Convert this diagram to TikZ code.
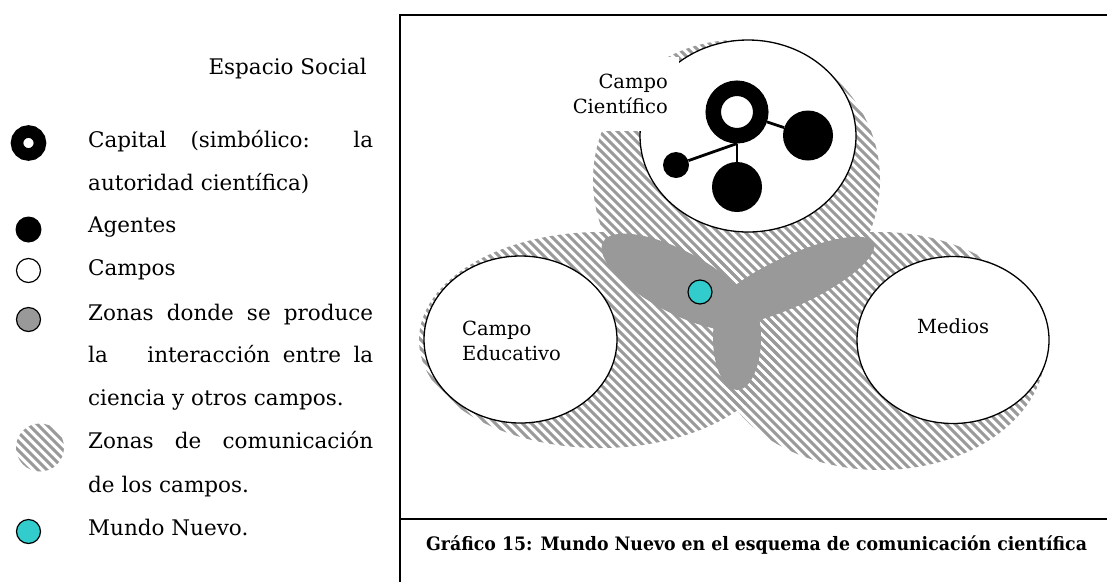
\documentclass[tikz,border=0pt]{standalone}
\usepackage{fontspec}
\setmainfont{DejaVu Serif}
\usetikzlibrary{shapes.geometric}
\definecolor{zgray}{HTML}{999999}
\definecolor{hgray}{HTML}{9A9A9A}
\definecolor{mcyan}{HTML}{33CCCC}
\newcommand\hatcharea[1]{\begin{scope}\clip #1;\foreach \k in {-80,...,135}{\draw[hatchline] ({\k*9-100},-100) -- ++(800,800);}\end{scope}}
\begin{document}
\begin{tikzpicture}[x=1pt,y=-1pt,
  hatchline/.style={hgray, line width=3.1pt},
  field/.style={draw=black, fill=white, ellipse, line width=1.3pt, inner sep=0pt},
  agent/.style={circle, fill=black, inner sep=0pt},
  capring/.style={circle, draw=black, fill=white, inner sep=0pt},
  lobe/.style={fill=zgray},
  legtxt/.style={anchor=base west, inner sep=0pt, font=\fontsize{21.5}{26}\selectfont},
  lbl/.style={inner sep=0pt, font=\fontsize{19.5}{25}\selectfont},
  legsym/.style={circle, inner sep=0pt, minimum size=24pt, line width=1.2pt},
  link/.style={line width=2.8pt},
  frame/.style={line width=1.5pt}]
\useasboundingbox (0,0) rectangle (1107,582);
% frame
\draw[frame] (1107,15) -- (400,15) -- (400,582);
\draw[frame] (400,519) -- (1107,519);
% hatched communication zones
\hatcharea{(736.5,180) ellipse [x radius=143.5, y radius=140]}
\hatcharea{(600,340) ellipse [x radius=181, y radius=108]}
\hatcharea{(880,351) ellipse [x radius=165, y radius=119]}
% interaction zones
\fill[lobe, rotate around={-28:(678,282)}] (678,282) ellipse [x radius=85, y radius=31];
\fill[lobe, rotate around={25:(792,281)}] (792,281) ellipse [x radius=90, y radius=25];
\fill[lobe] (737,338) ellipse [x radius=24, y radius=52];
% fields
\node[field, minimum width=216pt, minimum height=192pt] (cien) at (748,136) {};
\node[field, minimum width=193pt, minimum height=167pt] (edu) at (520.5,339.5) {};
\node[field, minimum width=192pt, minimum height=167pt] (med) at (953,340) {};
\fill[white] (540,57) rectangle (679,131);
\node[lbl, anchor=base east] (labC1) at (668,88) {Campo};
\node[lbl, anchor=base east] (labC2) at (668,113) {Científico};
\node[lbl, anchor=base west] (labE1) at (462,335) {Campo};
\node[lbl, anchor=base west] (labE2) at (462,360) {Educativo};
\node[lbl, anchor=base west] (labM) at (917,333) {Medios};
% network in the scientific field
\node[capring, line width=15.5pt, minimum size=47.5pt] (cap) at (737,112) {};
\node[agent, minimum size=50pt] (agR) at (808,135.5) {};
\node[agent, minimum size=50pt] (agB) at (737,187) {};
\node[agent, minimum size=26pt] (agL) at (676,165) {};
\draw[link] (cap) -- (agR);
\draw[link] (cap) -- (agB);
\draw[link] (cap.south) -- (agL);
% Mundo Nuevo
\node[legsym, draw=black, fill=mcyan] (mundo) at (700,292) {};
% legend
\node[legtxt, anchor=base east] (title) at (367,74) {Espacio Social};
\node[capring, line width=12.5pt, minimum size=23pt] (legCap) at (28.5,143) {};
\node[agent, minimum size=26pt] (legAg) at (28.5,229.5) {};
\node[legsym, draw=black, fill=white] (legCampo) at (28.5,270.5) {};
\node[legsym, draw=black, fill=zgray] (legZona) at (28.5,319.5) {};
\hatcharea{(40,447.5) circle [radius=24]}
\node[legsym, draw=black, fill=mcyan] (legMundo) at (28.5,531.5) {};
\node[legtxt] (t1) at (88,147) {\makebox[285pt][s]{Capital (simbólico: la}};
\node[legtxt] (t2) at (88,190) {autoridad científica)};
\node[legtxt] (t3) at (88,232) {Agentes};
\node[legtxt] (t4) at (88,275) {Campos};
\node[legtxt] (t5) at (88,320) {\makebox[285pt][s]{Zonas donde se produce}};
\node[legtxt] (t6) at (88,362) {\makebox[285pt][s]{la\hspace{27pt} interacción entre la}};
\node[legtxt] (t7) at (88,405) {ciencia y otros campos.};
\node[legtxt] (t8) at (88,448) {\makebox[285pt][s]{Zonas de comunicación}};
\node[legtxt] (t9) at (88,492) {de los campos.};
\node[legtxt] (t10) at (88,535) {Mundo Nuevo.};
% caption
\node[anchor=base west, inner sep=0pt, font=\bfseries\fontsize{18.5}{22}\selectfont] (cap15) at (426,550) {\scalebox{0.936}[1]{Gráfico 15: Mundo Nuevo en el esquema de comunicación científica}};
\end{tikzpicture}
\end{document}
